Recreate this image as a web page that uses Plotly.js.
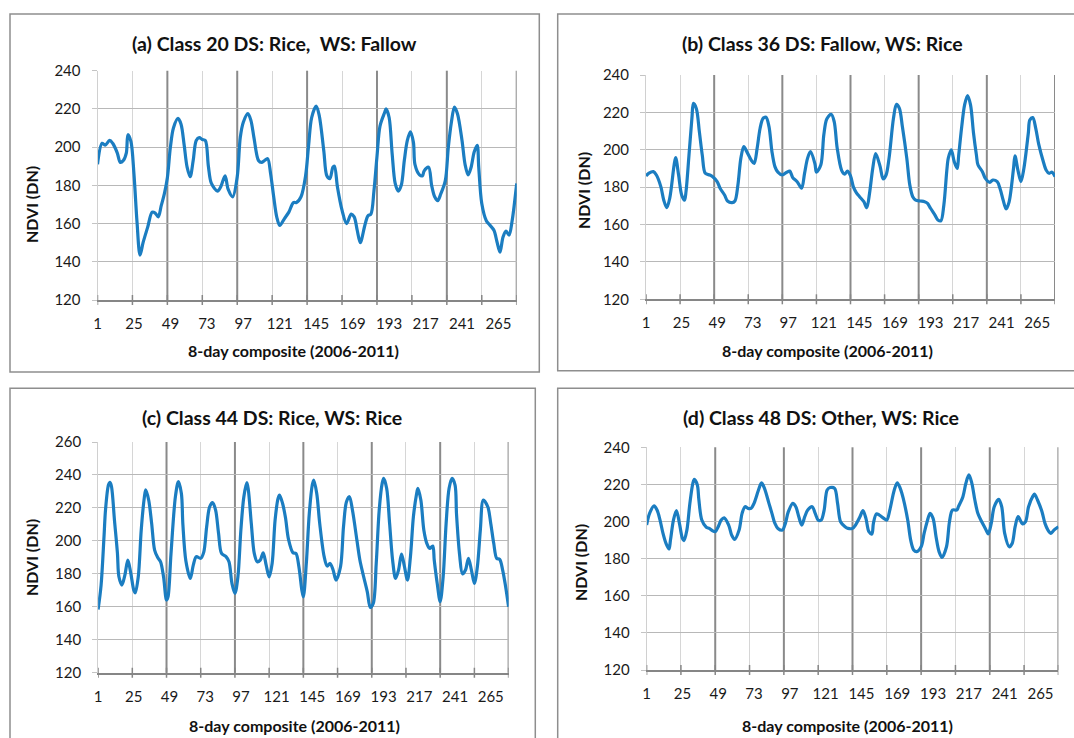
<!DOCTYPE html>
<html><head><meta charset="utf-8">
<script src="https://cdn.plot.ly/plotly-3.0.1.min.js"></script>
<style>html,body{margin:0;padding:0;background:#fff;}#chart{width:1074px;height:738px;}</style>
</head><body><div id="chart"></div>
<script>
// ---- data (composite index, NDVI DN) ----
const compA = [1,4,6,9,11,14,16,18,20,21,23,25,27,29,31,34,37,39,41,43,45,47,49,51,54,56,58,60,62,64,66,68,70,72,74,76,80,82,85,87,90,93,95,97,100,102,104,107,109,111,113,115,117,119,121,124,127,130,132,135,138,140,142,145,147,150,152,154,156,157,159,162,165,168,170,172,174,177,179,181,183,185,187,190,191,193,195,197,199,201,203,205,207,209,210,213,215,216,219,221,223,225,227,230,232,234,236,238,241,243,245,247,249,251,252,254,257,259,262,264,266,268,270,272,274,277];
const ndviA = [191,202,201,203.5,202,197,192,193,197,206.5,203,186,161,143.5,150,158,166,165.5,163.5,169.5,175.5,184,200,210,215,212,201.5,189.5,184.5,193,203.5,205,204,203.5,190,181,177,179,185,178,174,184.5,205,213,217.5,214,205,193,192,193,194,186,174,163.5,159,162.5,166,171,171,174,185,201,215.5,221.5,216.5,198,185,183.5,189.5,190,179,167,160,165,163.5,156.5,150,159,164,165,177,195,211,218,220,215.5,196.5,181,177,180,193,203.5,208,202.5,191,185.5,185,187.5,189.5,180,174,172,175.5,182.5,200,213,221,217.5,203.5,191,185.5,189.5,197.5,201,189.5,170.5,161.5,159.5,156.5,150.5,145,153,156,154,161.5,181];

const compB = [1,3,6,8,11,13,15,17,20,21,23,25,27,28,30,32,33,35,37,39,41,44,46,49,51,54,56,59,61,63,65,67,69,72,74,76,78,80,82,84,86,88,90,93,96,98,100,103,106,108,110,112,115,116,119,121,123,126,128,130,133,135,137,139,141,143,145,148,150,152,154,156,159,161,163,165,168,170,172,174,177,179,181,183,186,189,191,193,196,198,200,202,204,205,207,209,211,212,214,216,218,220,222,224,225,228,230,233,235,238,240,242,244,246,249,250,252,254,256,259,260,262,264,266,269,271,273,275,277];
const ndviB = [186,187.5,188.3,186.5,180.3,173,169,174,192,195.8,186.5,176,173,177.6,197,217,224.8,222,209.7,197,187.4,186.5,185.6,183,179.4,175.8,172.6,171.7,172.6,181,195.4,201.7,199,194.5,192.7,200.8,211.5,216.8,217.4,212.4,199,191,188,186.5,188,188.6,185.1,182.9,179.4,187.4,195.4,199,192.5,188,192,208,216.5,219,215,201,189,187,188.6,186,180,177,175,172.2,169,177.6,190,198,191,184.4,186.5,195.4,216.8,224.3,222.2,212.4,195.4,181.2,174.9,173.1,172.6,172.2,171.3,168.7,165,162.4,162,170.5,189,195.5,200,193.6,190,197,212,224,229,224,209,197,192,188.3,184.7,182.6,183.8,182.9,179,173.1,168.3,172,190,196.8,189,183,190,209,215.9,217.2,211.5,203,194,189.2,187.4,188,185.6];

const compC = [1,3,5,6,8,9,10,12,14,15,17,19,21,23,25,26,28,30,32,33,35,37,39,41,43,45,47,48,50,53,55,57,58,60,63,65,67,70,72,74,76,78,80,82,84,87,89,91,93,95,97,99,101,102,104,106,108,110,112,114,116,118,120,122,123,125,127,129,132,134,136,138,139,141,143,145,146,148,150,153,155,157,159,161,164,166,168,170,172,175,177,179,182,184,186,188,190,192,193,195,197,199,201,203,205,207,209,211,213,215,216,218,220,222,224,226,227,229,231,233,235,237,239,241,242,244,246,248,250,252,254,256,258,260,263,265,267,269,271,273,275,277];
const ndviC = [158.4,173,203,219,234,235.5,233,212.6,192.4,178.2,173.2,179.2,188.3,180.3,170.1,168.5,178.2,206.6,225.8,230.9,224.8,210.6,194.4,190,187.3,178.2,164.1,166,192,227,236,228.8,210,188,177.2,185.3,190.4,189.4,193,208.6,220.7,223.2,218.7,204.5,192.4,190.4,187.3,174.2,168.1,178.2,206.6,226.8,235.3,231,210.6,192.4,187.3,188.3,192.8,185.3,178.2,186.3,212.6,225.8,227.8,222.8,214,201,192.8,192.4,184.3,170.1,166,186.3,216.7,233.9,236.9,228.8,210.6,190.4,184.7,186.3,182.3,176.2,184.3,208.6,223.8,226.8,218.7,200.5,188.4,180.3,169.1,159.6,162,186.3,218.7,234.9,237.9,231.9,210.6,188.4,177.2,182.3,192,184.3,176.2,190.4,214.7,227.8,231.9,224.8,206.6,198.5,195.4,196.9,188.4,174.2,163.1,178.2,210.6,231.9,237.9,233.9,216,192,179.9,182.3,189.4,182.3,174.2,184.3,206.6,224.8,220.7,210.6,198.5,189.4,188.8,182.3,172.2,160];

const compD = [1,3,6,8,10,12,14,16,17,19,21,23,25,26,28,30,32,33,35,36,38,41,43,45,47,49,51,53,56,58,60,63,65,67,69,71,73,76,78,80,83,85,87,89,92,94,96,99,101,103,105,107,109,112,114,116,118,120,122,124,127,129,131,134,136,139,141,144,146,148,150,152,153,155,157,160,162,164,167,169,171,173,176,178,180,182,185,187,189,191,193,195,197,199,202,204,206,209,210,213,215,217,219,221,223,225,228,230,232,234,237,239,241,244,246,248,250,253,255,257,260,261,263,266,268,270,272,274,277];
const ndviD = [198.1,204.4,208.4,206.2,200.8,193.6,188.2,185.2,190,200.8,205.9,199,190.9,189.7,195.4,209.8,220.6,222.7,219.7,212,200.8,196.9,196.3,195.1,194.5,197.2,200.8,202,198.1,192.7,190.4,195.4,204.4,208,207.1,207.1,209.8,217,220.9,217.9,209.8,204.4,199,196.3,195.4,199,205.3,209.8,208,202.6,198.1,202.6,206.2,208,204.4,200.8,200.8,206.2,217,218.3,217.9,209.8,199.9,197.2,196.3,196.3,198.1,202.6,205.9,201.7,194.5,193.3,199,204.1,203.5,201.7,200.8,206.2,217,220.9,217.9,212.5,200.8,190,184.7,183.8,186.4,193.6,199.9,204.4,201.7,191.8,183.8,180.7,186.4,199.9,206.2,206.2,208,213.4,220.6,225.1,220.6,211.6,204.4,200.8,196.3,193.3,199,208,212,208,193.6,186.4,188.2,197.2,202.6,198.7,199.9,208,213.8,214.8,211.6,205.3,199,195.4,193.6,195.4,197.2];

const labelVals = [1,25,49,73,97,121,145,169,193,217,241,265];
const tickMarkVals = [1,24,47,70,93,116,139,162,185,208,231,254,277];
const lightLineVals = [24,70,116,162,208,254];
const yearLineVals = [47,93,139,185,231,277];
const panelTitles = ['(a) Class 20 DS: Rice,&nbsp; WS: Fallow','(b) Class 36 DS: Fallow, WS: Rice','(c) Class 44 DS: Rice, WS: Rice','(d) Class 48 DS: Other, WS: Rice'];
const xTitleText = '8-day composite (2006-2011)';
const yTitleText = 'NDVI (DN)';

// ---- layout geometry (pixels) ----
const W = 1074, H = 738;
const FONT = 'Lato, "Open Sans", sans-serif';
const LINE = '#1b7dc1';
const panels = [
  {x: compA, y: ndviA, px: [97.5, 516.7], py: [70.7, 300], yr: [120, 240], t: [274, 44], yl: [31, 205], xl: [293, 350], box: [10, 14, 539.3, 372]},
  {x: compB, y: ndviB, px: [646, 1055], py: [75, 299.3], yr: [120, 240], t: [822, 43], yl: [583, 191], xl: [827, 350], box: [557.7, 14, 1080, 370.7]},
  {x: compC, y: ndviC, px: [98.1, 508.6], py: [442, 672.7], yr: [120, 260], t: [272, 417], yl: [31, 558], xl: [294, 725], box: [10, 388.3, 535.3, 745]},
  {x: compD, y: ndviD, px: [646.6, 1058.4], py: [447.3, 670], yr: [120, 240], t: [821, 417], yl: [580, 563], xl: [847, 725], box: [557.7, 388.3, 1080, 745]}
];

const traces = [], shapes = [], annotations = [];
const layout = {
  width: W, height: H, margin: {l: 0, r: 0, t: 0, b: 0},
  paper_bgcolor: '#ffffff', plot_bgcolor: 'rgba(0,0,0,0)', showlegend: false,
  font: {family: FONT, color: '#1a1a1a'}
};

panels.forEach((p, i) => {
  const n = i + 1;
  const xa = 'xaxis' + (n === 1 ? '' : n), ya = 'yaxis' + (n === 1 ? '' : n);
  const xr = 'x' + (n === 1 ? '' : n), yr = 'y' + (n === 1 ? '' : n);
  traces.push({
    type: 'scatter', mode: 'lines', x: p.x, y: p.y, xaxis: xr, yaxis: yr,
    line: {color: LINE, width: 3.2, shape: 'spline', smoothing: 0.9},
    hoverinfo: 'x+y'
  });
  layout[xa] = {
    domain: [p.px[0] / W, p.px[1] / W], anchor: yr, range: [1, 277],
    tickmode: 'array', tickvals: labelVals, ticktext: labelVals.map(String),
    ticks: '', showgrid: false, zeroline: false,
    showline: true, linecolor: '#868686', linewidth: 2,
    tickfont: {family: FONT, size: 15, color: '#1a1a1a'}, ticklabelstandoff: 9,
    minor: {tickmode: 'array', tickvals: lightLineVals, showgrid: true, gridcolor: '#d6d6d6', gridwidth: 1, ticks: ''}
  };
  layout[ya] = {
    domain: [1 - p.py[1] / H, 1 - p.py[0] / H], anchor: xr, range: p.yr,
    tickmode: 'linear', tick0: 120, dtick: 20,
    ticks: 'outside', ticklen: 5, tickcolor: '#c4c4c4', tickwidth: 1,
    showgrid: true, gridcolor: '#b8b8b8', gridwidth: 1, zeroline: false,
    showline: true, linecolor: '#d0d0d0', linewidth: 1,
    tickfont: {family: FONT, size: 15, color: '#1a1a1a'}, ticklabelstandoff: 8
  };
  const hpx = p.py[1] - p.py[0];
  yearLineVals.forEach(v => shapes.push({
    type: 'line', xref: xr, yref: yr + ' domain', x0: v, x1: v, y0: 0, y1: 1,
    line: {color: '#8a8a8a', width: 2}, layer: 'below'
  }));
  tickMarkVals.forEach(v => shapes.push({
    type: 'line', xref: xr, yref: yr + ' domain', x0: v, x1: v, y0: -5 / hpx, y1: 5 / hpx,
    line: {color: '#868686', width: 1.5}, layer: 'above'
  }));
  shapes.push({
    type: 'rect', xref: 'paper', yref: 'paper',
    x0: p.box[0] / W, x1: p.box[2] / W, y0: 1 - p.box[3] / H, y1: 1 - p.box[1] / H,
    line: {color: '#8e8e8e', width: 1.5}, fillcolor: 'rgba(0,0,0,0)', layer: 'below'
  });
  annotations.push({
    xref: 'paper', yref: 'paper', x: p.t[0] / W, y: 1 - p.t[1] / H,
    xanchor: 'center', yanchor: 'middle', showarrow: false,
    text: '<b>' + panelTitles[i] + '</b>', font: {family: FONT, size: 19.5, color: '#111'}
  });
  annotations.push({
    xref: 'paper', yref: 'paper', x: p.xl[0] / W, y: 1 - p.xl[1] / H,
    xanchor: 'center', yanchor: 'middle', showarrow: false,
    text: '<b>' + xTitleText + '</b>', font: {family: FONT, size: 16, color: '#111'}
  });
  annotations.push({
    xref: 'paper', yref: 'paper', x: p.yl[0] / W, y: 1 - p.yl[1] / H,
    xanchor: 'center', yanchor: 'middle', showarrow: false, textangle: -90,
    text: '<b>' + yTitleText + '</b>', font: {family: FONT, size: 16, color: '#111'}
  });
});
layout.shapes = shapes;
layout.annotations = annotations;

Plotly.newPlot('chart', traces, layout, {displayModeBar: false, staticPlot: true});
</script>
</body></html>
